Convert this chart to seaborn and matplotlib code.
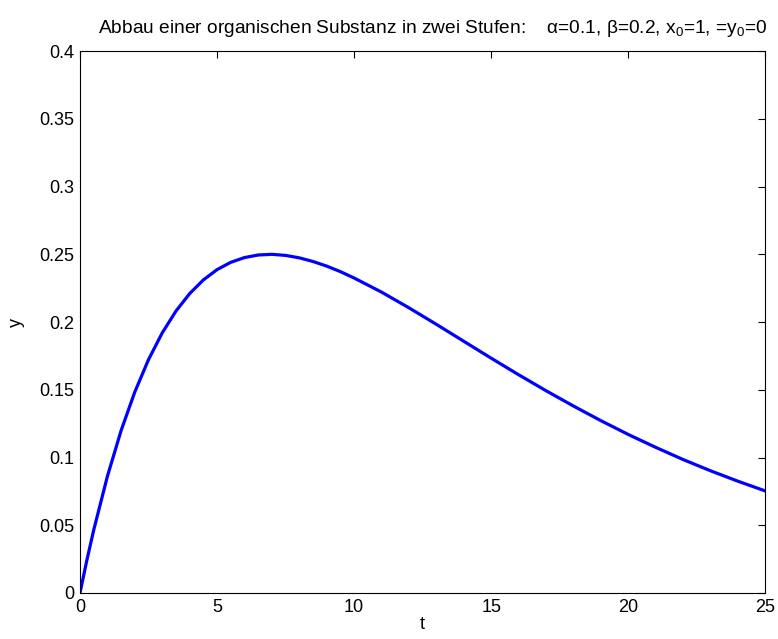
import matplotlib
matplotlib.use("Agg")
import matplotlib.pyplot as plt
import seaborn as sns
import pandas as pd

# values
t = [0, 0.25, 0.5, 1, 1.5, 2, 2.5, 3, 3.5, 4, 4.5, 5, 5.5, 6, 6.5, 7, 7.5, 8, 8.5, 9, 9.5,
     10, 11, 12, 13, 14, 15, 16, 17, 18, 19, 20, 21, 22, 23, 24, 25]
y = [0.0, 0.0241, 0.0464, 0.0861, 0.1199, 0.1484, 0.1723, 0.1920, 0.2081, 0.2210, 0.2311,
     0.2387, 0.2441, 0.2476, 0.2495, 0.2500, 0.2492, 0.2474, 0.2447, 0.2413, 0.2372,
     0.2325, 0.2221, 0.2105, 0.1983, 0.1858, 0.1733, 0.1611, 0.1493, 0.1380, 0.1272,
     0.1170, 0.1075, 0.0985, 0.0902, 0.0825, 0.0753]

xticks = [0, 5, 10, 15, 20, 25]
yticks = [0, 0.05, 0.1, 0.15, 0.2, 0.25, 0.3, 0.35, 0.4]
ytick_labels = ["0", "0.05", "0.1", "0.15", "0.2", "0.25", "0.3", "0.35", "0.4"]

df = pd.DataFrame({"t": t, "y": y})

sns.set_style("white", {"text.color": "black", "axes.labelcolor": "black",
                        "xtick.color": "black", "ytick.color": "black"})
plt.rcParams["font.family"] = ["Liberation Sans", "DejaVu Sans"]
plt.rcParams["mathtext.fontset"] = "custom"
plt.rcParams["mathtext.rm"] = "Liberation Sans"
plt.rcParams["mathtext.it"] = "Liberation Sans"

fig = plt.figure(figsize=(7.78, 6.39), dpi=100)
ax = fig.add_axes([0.1028, 0.072, 0.881, 0.848])

sns.lineplot(data=df, x="t", y="y", ax=ax, color=(0, 0, 1), linewidth=2.3)

ax.set_xlim(0, 25)
ax.set_ylim(0, 0.4)
ax.set_xticks(xticks)
ax.set_yticks(yticks)
ax.set_yticklabels(ytick_labels)
ax.tick_params(direction="in", length=5, width=0.8, top=True, right=True,
               labelsize=13, colors="black", pad=4)
for s in ax.spines.values():
    s.set_visible(True)
    s.set_color("black")
    s.set_linewidth(0.8)

ax.set_xlabel("t", fontsize=13, labelpad=0, color="black")
ax.set_ylabel("y", fontsize=13, labelpad=10, color="black")
ax.set_title(r"Abbau einer organischen Substanz in zwei Stufen:    $\mathrm{\alpha}$=0.1, "
             r"$\mathrm{\beta}$=0.2, x$_0$=1, =y$_0$=0", fontsize=13.8, pad=13, x=0.515,
             color="black")

fig.savefig("out.png", dpi=100)
